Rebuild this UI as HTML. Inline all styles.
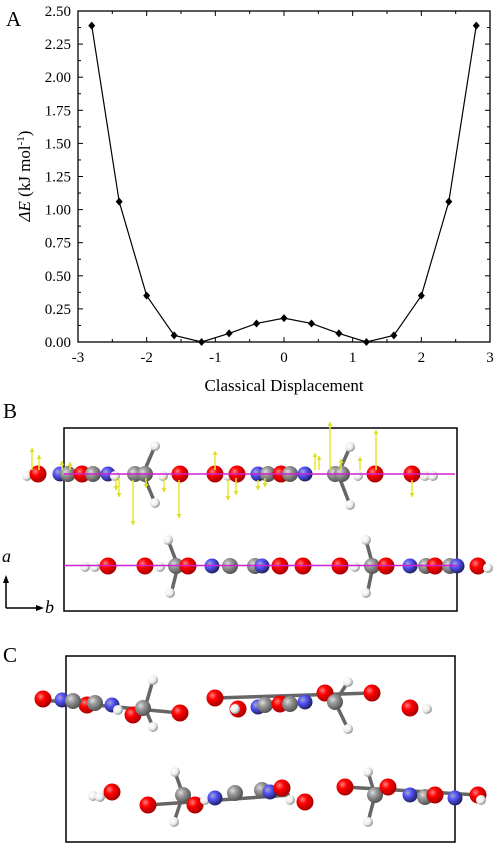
<!DOCTYPE html>
<html><head><meta charset="utf-8"><style>
body{margin:0;background:#fff;width:499px;height:852px;overflow:hidden;font-family:"Liberation Serif",serif}
svg{position:absolute;left:0;top:0}
</style></head><body>
<svg id="fig" width="499" height="852">
<defs>
<radialGradient id="gR" cx="35%" cy="35%" r="65%"><stop offset="0" stop-color="#ff8080"/><stop offset="0.4" stop-color="#f00"/><stop offset="1" stop-color="#a00"/></radialGradient>
<radialGradient id="gC" cx="35%" cy="35%" r="65%"><stop offset="0" stop-color="#ddd"/><stop offset="0.4" stop-color="#999"/><stop offset="1" stop-color="#555"/></radialGradient>
<radialGradient id="gN" cx="35%" cy="35%" r="65%"><stop offset="0" stop-color="#aab"/><stop offset="0.4" stop-color="#55f"/><stop offset="1" stop-color="#226"/></radialGradient>
<radialGradient id="gH" cx="35%" cy="35%" r="65%"><stop offset="0" stop-color="#fff"/><stop offset="0.6" stop-color="#eee"/><stop offset="1" stop-color="#999"/></radialGradient>
</defs>
<g id="chart"></g>
<g id="molB"></g>
<g id="molC"></g>
</svg>
<script>
const xValues=[-2.8,-2.4,-2,-1.6,-1.2,-0.8,-0.4,0,0.4,0.8,1.2,1.6,2,2.4,2.8];
const yValues=[2.39,1.06,0.35,0.05,0,0.065,0.14,0.18,0.14,0.065,0,0.05,0.35,1.06,2.39];
const xTicks=[-3,-2,-1,0,1,2,3];
const yTicks=["0.00","0.25","0.50","0.75","1.00","1.25","1.50","1.75","2.00","2.25","2.50"];
const NS="http://www.w3.org/2000/svg";
function mk(p,t,a,txt){const e=document.createElementNS(NS,t);for(const k in a)e.setAttribute(k,a[k]);if(txt!==undefined)e.textContent=txt;p.appendChild(e);return e;}
const X=v=>284+v*68.67, Y=v=>342-v/2.5*331;
const g=document.getElementById('chart');
let e;
e=mk(g,'rect',{x:78,y:11,width:412,height:331,fill:'none',stroke:'#000','stroke-width':1.3});

for(let v=-3;v<=3.001;v+=0.5){const maj=Math.abs(v-Math.round(v))<0.01;
 mk(g,'line',{x1:X(v),x2:X(v),y1:342,y2:342-(maj?5:3),stroke:'#000'});
 mk(g,'line',{x1:X(v),x2:X(v),y1:11,y2:11+(maj?5:3),stroke:'#000'});}
xTicks.forEach(t=>{e=mk(g,'text',{x:X(t),y:362,'text-anchor':'middle','font-size':15},t);
 });
for(let i=0;i<=20;i++){const v=i*0.125,maj=i%2==0;
 mk(g,'line',{x1:78,x2:78+(maj?5:3),y1:Y(v),y2:Y(v),stroke:'#000'});
 mk(g,'line',{x1:490,x2:490-(maj?5:3),y1:Y(v),y2:Y(v),stroke:'#000'});}
yTicks.forEach(t=>{e=mk(g,'text',{x:71,y:Y(+t)+5,'text-anchor':'end','font-size':15},t);
 });
e=mk(g,'text',{x:284,y:391,'text-anchor':'middle','font-size':17},'Classical Displacement');

e=mk(g,'text',{transform:'translate(30,176) rotate(-90)','text-anchor':'middle','font-size':17});
e.innerHTML='<tspan font-style="italic">ΔE</tspan> (kJ mol<tspan dy="-6" font-size="11">-1</tspan><tspan dy="6">)</tspan>';

e=mk(g,'polyline',{points:xValues.map((x,i)=>X(x)+','+Y(yValues[i])).join(' '),fill:'none',stroke:'#000','stroke-width':1.2});

xValues.forEach((x,i)=>{const cx=X(x),cy=Y(yValues[i]);
 e=mk(g,'path',{d:`M${cx},${cy-4}L${cx+3.5},${cy}L${cx},${cy+4}L${cx-3.5},${cy}Z`,fill:'#000'});
 });
[['A',6,26],['B',3,418],['C',3,662]].forEach(([t,x,y])=>{e=mk(g,'text',{x:x,y:y,'font-size':21},t);
 });

// Panel B
const b=document.getElementById('molB');
e=mk(b,'rect',{x:64,y:428,width:393,height:183,fill:'none',stroke:'#000','stroke-width':1.5});

const G={r:'url(#gR)',c:'url(#gC)',n:'url(#gN)',h:'url(#gH)'},R={r:8.5,c:8,n:7.5,h:5};
function bond(p,x1,y1,x2,y2){mk(p,'line',{x1,y1,x2,y2,stroke:'#666','stroke-width':3.5});}
function atoms(p,list){list.forEach(([t,x,y])=>{e=mk(p,'circle',{cx:x,cy:y,r:R[t],fill:G[t]});
 });}
bond(b,143,474,155,446);bond(b,143,474,155,503);bond(b,338,474,350,447);bond(b,338,474,350,505);
atoms(b,[['h',27,476],['r',38,474],['n',60,474],['c',68,474],['r',82,474],['c',93,474],['n',108,474],['h',115,476],['c',135,474],['c',145,474],['h',155,446],['h',155,503],['h',163,476],['r',180,474],['r',215,474],['h',228,476],['r',237,474],['n',258,474],['c',268,474],['r',281,474],['c',290,474],['n',305,474],['c',335,474],['c',342,474],['h',350,447],['h',350,505],['h',358,476],['r',375,474],['r',412,474],['h',425,476],['h',433,476]]);
e=mk(b,'line',{x1:64,y1:474,x2:455,y2:474,stroke:'#d020d0','stroke-width':1.5});

[[32,470,448],[39,470,455],[62,470,461],[70,470,462],[116,478,490],[119,478,497],[133,480,525],[146,478,488],[164,478,492],[179,480,518],[215,470,451],[228,480,500],[236,478,495],[258,480,490],[265,478,487],[315,470,453],[319,470,456],[330,470,422],[341,470,459],[360,470,457],[376,470,430],[412,480,497]].forEach(([x,y1,y2])=>{
 e=mk(b,'line',{x1:x,y1:y1,x2:x,y2:y2,stroke:'#e8e830','stroke-width':1.5});
 
 const d=y2>y1?1:-1;mk(b,'path',{d:`M${x-2.5},${y2-4*d}L${x+2.5},${y2-4*d}L${x},${y2}Z`,fill:'#dd2'});});
bond(b,168,540,178,566);bond(b,178,566,172,590);bond(b,366,540,373,566);bond(b,373,566,368,590);
atoms(b,[['h',85,567],['h',95,567],['r',108,566],['r',145,566],['h',160,567],['h',168,540],['h',170,593],['c',176,566],['r',188,566],['n',212,566],['c',230,566],['c',255,566],['n',262,566],['h',283,566],['r',280,566],['r',303,566],['r',340,566],['h',355,567],['h',366,540],['h',366,593],['c',372,566],['r',386,566],['n',410,566],['c',426,566],['r',435,566],['c',450,566],['n',457,566],['r',478,566],['h',488,568]]);
e=mk(b,'line',{x1:64,y1:565.5,x2:457,y2:565.5,stroke:'#d020d0','stroke-width':1.5});

mk(b,'path',{d:'M6,608 L6,580 M6,608 L40,608',stroke:'#000','stroke-width':1.5,fill:'none'});
mk(b,'path',{d:'M3,583 L6,575 L9,583Z M36,605 L44,608 L36,611Z',fill:'#000'});
e=mk(b,'text',{x:2,y:562,'font-size':18,'font-style':'italic'},'a');
e=mk(b,'text',{x:45,y:613,'font-size':18,'font-style':'italic'},'b');

// Panel C
const c=document.getElementById('molC');
e=mk(c,'rect',{x:66,y:656,width:389,height:186,fill:'none',stroke:'#000','stroke-width':1.5});

bond(c,43,700,180,713);bond(c,153,680,145,708);bond(c,145,708,153,727);bond(c,215,698,372,693);bond(c,348,682,335,702);bond(c,335,702,348,729);
atoms(c,[['r',43,699],['n',62,700],['r',87,705],['c',73,701],['c',95,703],['n',112,705],['h',118,710],['r',133,715],['c',143,708],['h',153,680],['h',153,727],['r',180,713],['r',215,698],['r',238,709],['h',235,709],['n',258,707],['c',265,705],['r',280,704],['c',290,704],['n',305,702],['r',325,693],['c',335,702],['h',348,682],['h',348,729],['r',372,693],['r',410,708],['h',427,709]]);
bond(c,148,805,290,795);bond(c,175,772,183,795);bond(c,183,795,174,822);bond(c,345,787,478,795);bond(c,368,772,375,795);bond(c,375,795,368,822);
atoms(c,[['h',93,796],['h',100,797],['r',112,792],['r',148,805],['c',183,795],['h',175,772],['h',174,822],['r',195,805],['h',205,800],['n',215,798],['c',235,793],['c',262,790],['n',270,792],['r',282,788],['h',290,800],['r',305,802],['r',345,787],['c',375,795],['h',368,772],['h',368,822],['r',388,787],['n',410,795],['c',425,797],['r',435,795],['n',455,798],['r',478,795],['h',481,800]]);
</script>
</body></html>
